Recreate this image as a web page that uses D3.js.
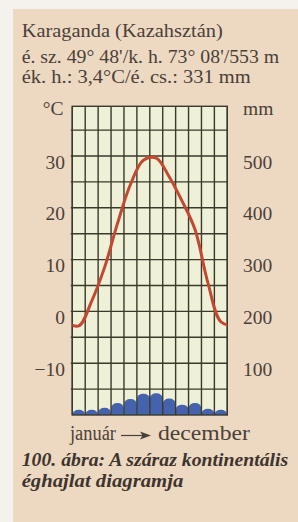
<!DOCTYPE html>
<html>
<head>
<meta charset="utf-8">
<script src="https://cdn.jsdelivr.net/npm/d3@7"></script>
<style>
  html, body { margin: 0; padding: 0; background: #f5f1ec; }
  svg { display: block; }
  text { font-family: "Liberation Serif", "Times New Roman", "DejaVu Serif", serif; fill: #4b4038; }
</style>
</head>
<body>
<svg width="298" height="522"></svg>
<script>
var months = ["jan", "feb", "mar", "apr", "maj", "jun", "jul", "aug", "sze", "okt", "nov", "dec"];
var temps = [-2.8, 2, 8.5, 17, 24.5, 29.2, 29.6, 26, 21.3, 15.8, 5.5, -2];
var precip = [10, 10, 14, 23, 31, 41, 42, 32, 20, 23, 12, 10];
var tempTicks = [30, 20, 10, 0, -10];
var precipTicks = [500, 400, 300, 200, 100];
var titleLines = ["Karaganda (Kazahsztán)", "é. sz. 49° 48'/k. h. 73° 08'/553 m", "ék. h.: 3,4°C/é. cs.: 331 mm"];
var captionLines = ["100. ábra: A száraz kontinentális", "éghajlat diagramja"];

var svg = d3.select("svg");

// paper
svg.append("rect").attr("x", 13).attr("y", 9).attr("width", 285).attr("height", 513).attr("fill", "#edd9c2");

var plotLeft = 72.3, plotRight = 227.3, plotTop = 106.3, plotBottom = 415;

var x = d3.scaleLinear().domain([0, 12]).range([plotLeft, plotRight]);
var y = d3.scaleLinear().domain([-20, 39.6]).range([plotBottom, plotTop]);
var yp = d3.scaleLinear().domain([0, 596]).range([plotBottom, plotTop]);

// title
var titleY = [36.8, 62.5, 83.3];
var titleW = [201, 257.5, 229];
svg.selectAll(".title").data(titleLines).enter().append("text")
  .attr("x", 21.7)
  .attr("y", function(d, i){ return titleY[i]; })
  .attr("textLength", function(d, i){ return titleW[i]; })
  .attr("lengthAdjust", "spacingAndGlyphs")
  .style("font-size", "19.5px")
  .text(function(d){ return d; });

svg.append("defs").append("clipPath").attr("id", "plot")
  .append("rect").attr("x", plotLeft).attr("y", plotTop).attr("width", plotRight - plotLeft).attr("height", plotBottom - plotTop);

// plot background
svg.append("rect").attr("x", plotLeft).attr("y", plotTop).attr("width", plotRight - plotLeft).attr("height", plotBottom - plotTop)
  .attr("fill", "#eef0d7");

// precipitation blobs
var colW = x(1) - x(0);
svg.append("g").attr("clip-path", "url(#plot)")
  .selectAll("rect").data(precip).enter().append("rect")
  .attr("x", function(d, i){ return x(i) + 0.2; })
  .attr("width", colW - 0.4)
  .attr("y", function(d){ return yp(d); })
  .attr("height", function(d){ return plotBottom - yp(d) + 8; })
  .attr("rx", colW / 2 - 0.5)
  .attr("ry", function(d){ return Math.min(5, plotBottom - yp(d)); })
  .attr("fill", "#4462ad");

// grid
var grid = svg.append("g").attr("stroke", "#3a392a").attr("stroke-width", 1.4);
grid.selectAll(".v").data(d3.range(13)).enter().append("line")
  .attr("x1", function(d){ return x(d); })
  .attr("x2", function(d){ return x(d); })
  .attr("y1", plotTop).attr("y2", plotBottom);
grid.selectAll(".h").data(d3.range(-15, 40, 5)).enter().append("line")
  .attr("x1", plotLeft - 1.5).attr("x2", plotRight)
  .attr("y1", function(d){ return y(d); })
  .attr("y2", function(d){ return y(d); });
grid.append("rect").attr("x", plotLeft).attr("y", plotTop).attr("width", plotRight - plotLeft).attr("height", plotBottom - plotTop)
  .attr("fill", "none");

// temperature curve (year wraps around so the line runs edge to edge)
var pts = [[-1, temps[11]]];
temps.forEach(function(t, i){ pts.push([i, t]); });
pts.push([12, temps[0]]);

var line = d3.line()
  .x(function(d){ return x(d[0] + 0.5); })
  .y(function(d){ return y(d[1]); })
  .curve(d3.curveCatmullRom.alpha(0.5));

svg.append("path").attr("clip-path", "url(#plot)")
  .attr("d", line(pts))
  .attr("fill", "none")
  .attr("stroke", "#c4472f")
  .attr("stroke-width", 3);

// axis labels
svg.selectAll(".tl").data(tempTicks).enter().append("text")
  .attr("x", 65)
  .attr("y", function(d){ return y(d) + 12.5; })
  .attr("text-anchor", "end")
  .style("font-size", "19.5px")
  .text(function(d){ return d < 0 ? "\u2212" + Math.abs(d) : d; });

svg.selectAll(".pl").data(precipTicks).enter().append("text")
  .attr("x", 243)
  .attr("y", function(d){ return yp(d) + 12.5; })
  .style("font-size", "19.5px")
  .text(function(d){ return d; });

svg.append("text").attr("x", 63.5).attr("y", 114.5).attr("text-anchor", "end")
  .style("font-size", "19.5px").text("°C");
svg.append("text").attr("x", 243).attr("y", 115)
  .style("font-size", "19.5px").text("mm");

// január -> december
svg.append("text").attr("x", 70).attr("y", 439.5).attr("textLength", 46).attr("lengthAdjust", "spacingAndGlyphs")
  .style("font-size", "20px").text("január");
svg.append("text").attr("x", 158).attr("y", 439.5).attr("textLength", 92).attr("lengthAdjust", "spacingAndGlyphs")
  .style("font-size", "20px").text("december");
svg.append("line").attr("x1", 121).attr("x2", 143).attr("y1", 435.5).attr("y2", 435.5)
  .attr("stroke", "#4b4038").attr("stroke-width", 1.2);
svg.append("path").attr("d", "M140,431.5 L151,435.5 L140,439.5 L142.5,435.5 Z").attr("fill", "#4b4038");

// caption
var capY = [466, 487];
var capW = [266.6, 161.6];
svg.selectAll(".cap").data(captionLines).enter().append("text")
  .attr("x", 21.7)
  .attr("y", function(d, i){ return capY[i]; })
  .attr("textLength", function(d, i){ return capW[i]; })
  .attr("lengthAdjust", "spacingAndGlyphs")
  .style("font-size", "18.5px")
  .style("font-style", "italic")
  .style("font-weight", "bold")
  .style("fill", "#3e342d")
  .text(function(d){ return d; });
</script>
</body>
</html>
